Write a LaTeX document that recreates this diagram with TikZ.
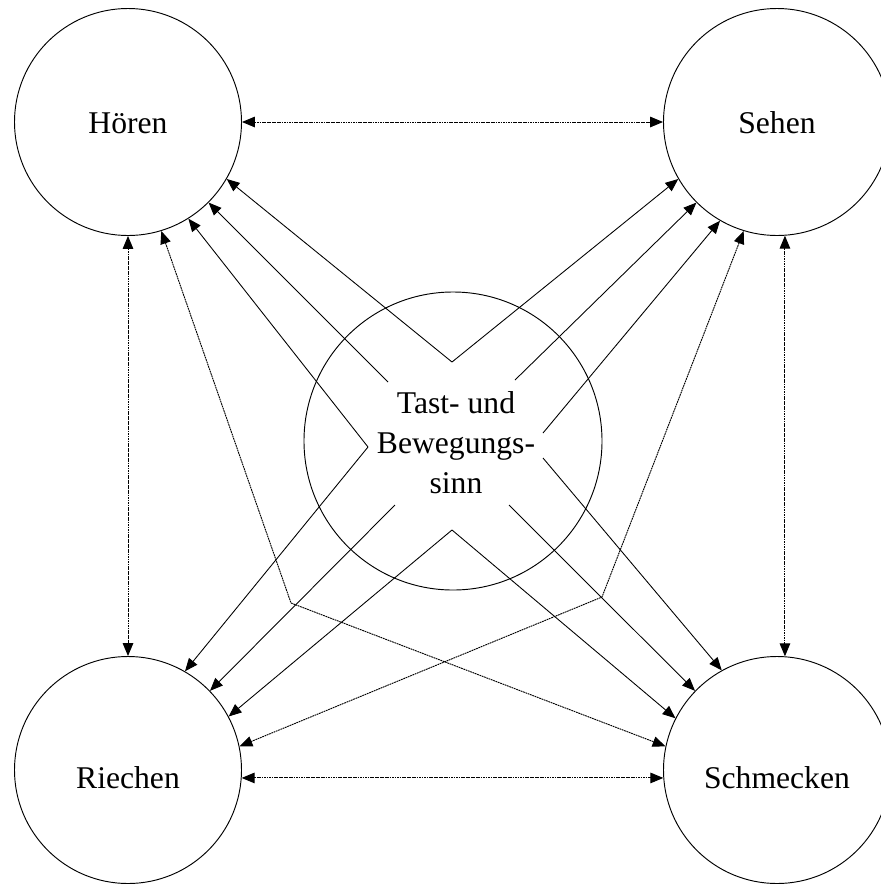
\documentclass[tikz,border=0pt]{standalone}
\usepackage{fontspec}
\setmainfont{Liberation Serif}
\usetikzlibrary{arrows.meta}
\begin{document}
\begin{tikzpicture}[x=0.03cm,y=-0.03cm,
  sense/.style={circle,draw,line width=0.8pt,minimum size=6.81cm,inner sep=0pt},
  sensetext/.style={anchor=base,inner sep=0pt,font=\fontsize{27}{32}\selectfont},
  hub/.style={circle,draw,line width=0.8pt,minimum size=8.94cm,inner sep=0pt},
  hubtext/.style={align=center,inner sep=0pt,font=\fontsize{27}{34}\selectfont},
  tip/.tip={Triangle[length=11pt,width=9pt]},
  solidarr/.style={line width=0.75pt,-tip},
  dotarr/.style={line width=0.8pt,dash pattern=on 1.5pt off 0.6pt,tip-tip}]
\useasboundingbox (0,0) rectangle (881,884);
\clip (0,0) rectangle (881,884);

% the four outer senses and the central one
\node[sense] (hoeren) at (128,122) {};
\node[sense] (sehen) at (777,122) {};
\node[sense] (riechen) at (128,770) {};
\node[sense] (schmecken) at (777,770) {};
\node[sensetext] (hoerentext) at (128,133) {Hören};
\node[sensetext] (sehentext) at (777,133) {Sehen};
\node[sensetext] (riechentext) at (128,788) {Riechen};
\node[sensetext] (schmeckentext) at (777,788) {Schmecken};
\node[hub] (tast) at (453,441) {};
\node[hubtext] (tasttext) at (456,443) {Tast- und\\Bewegungs-\\sinn};

% starting points of the arrows inside the central circle
\coordinate (apexT) at (452,362);
\coordinate (apexL) at (368,447);
\coordinate (apexB) at (452,530);
\coordinate (endRu) at (543,433);
\coordinate (endRd) at (543,458);
\coordinate (stHL) at (388,382);
\coordinate (stHS) at (515,380);
\coordinate (stRi) at (395,505);
\coordinate (stSc) at (509,505);
% knees of the two crossing links
\coordinate (kneeL) at (291,603);
\coordinate (kneeR) at (602,597);

% arrows from the touch/movement sense
\draw[solidarr] (apexT) -- (hoeren.-30);
\draw[solidarr] (apexT) -- (sehen.210);
\draw[solidarr] (apexL) -- (hoeren.-58);
\draw[solidarr] (apexL) -- (riechen.60);
\draw[solidarr] (apexB) -- (riechen.28);
\draw[solidarr] (apexB) -- (schmecken.153);
\draw[solidarr] (endRu) -- (sehen.240);
\draw[solidarr] (endRd) -- (schmecken.119);
\draw[solidarr] (stHL) -- (hoeren.-45);
\draw[solidarr] (stHS) -- (sehen.225);
\draw[solidarr] (stRi) -- (riechen.44);
\draw[solidarr] (stSc) -- (schmecken.136);

% mutual links between the outer senses
\draw[dotarr] (hoeren.0) -- (sehen.180);
\draw[dotarr] (riechen.-4) -- (schmecken.184);
\draw[dotarr] (hoeren.-90) -- (riechen.90);
\draw[dotarr] (sehen.274) -- (schmecken.86);
\draw[dotarr] (hoeren.-73) -- (kneeL) -- (schmecken.168);
\draw[dotarr] (sehen.253) -- (kneeR) -- (riechen.12);
\end{tikzpicture}
\end{document}
